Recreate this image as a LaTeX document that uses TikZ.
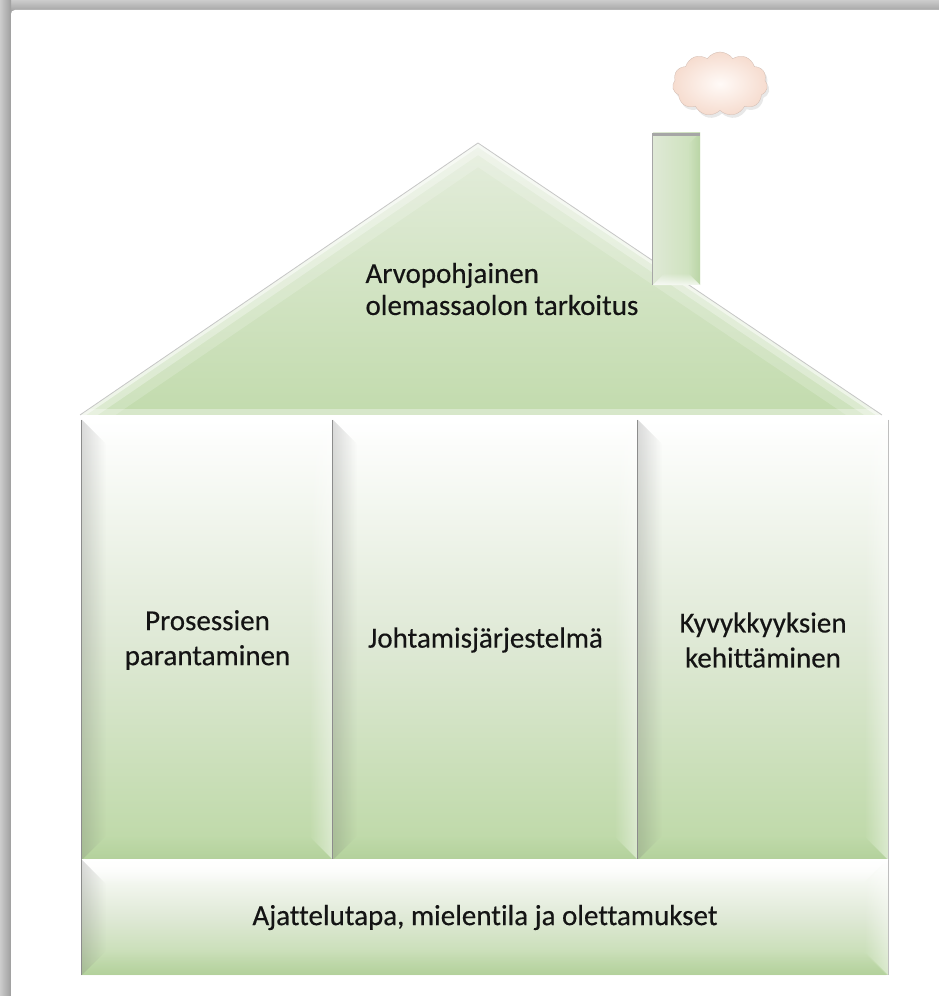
\documentclass[tikz,border=0pt]{standalone}
\usepackage{fontspec}
\setmainfont{Carlito}[Ligatures=CommonOff, FakeBold=0.35]
\usetikzlibrary{shapes.symbols,fadings,shadows}

\definecolor{leaf}{HTML}{BCD8A5}
\definecolor{leafmid}{HTML}{DFE9D6}
\definecolor{leafdark}{HTML}{9FC286}
\definecolor{rooftop}{HTML}{E4EDDC}
\definecolor{roofbase}{HTML}{C2DBAD}
\definecolor{inkdark}{HTML}{141414}
\definecolor{puff}{HTML}{FFFAF7}
\definecolor{puffedge}{HTML}{F6DCCF}

% soft bevel on a rectangular node: light top and right, shaded left, darker bottom
\newcommand\bevelon[2]{%
  \fill[white, fill opacity=0.95, path fading=south]
    (#1.north west) -- (#1.north east) -- ([xshift=-#2pt,yshift=-#2pt]#1.north east)
    -- ([xshift=#2pt,yshift=-#2pt]#1.north west) -- cycle;
  \fill[black!70, fill opacity=0.2, path fading=east]
    (#1.north west) -- ([xshift=#2pt,yshift=-#2pt]#1.north west)
    -- ([xshift=#2pt,yshift=#2pt]#1.south west) -- (#1.south west) -- cycle;
  \fill[white, fill opacity=0.45, path fading=west]
    (#1.north east) -- (#1.south east) -- ([xshift=-#2pt,yshift=#2pt]#1.south east)
    -- ([xshift=-#2pt,yshift=-#2pt]#1.north east) -- cycle;
  \fill[leafdark, fill opacity=0.3, path fading=north]
    (#1.south west) -- (#1.south east) -- ([xshift=-#2pt,yshift=#2pt]#1.south east)
    -- ([xshift=#2pt,yshift=#2pt]#1.south west) -- cycle;
  \draw[black!45, line width=1pt] (#1.north west) -- (#1.south west);
}

\begin{document}
\begin{tikzpicture}[x=1pt,y=1pt,
  labeltext/.style={font=\fontsize{29}{35}\selectfont, text=inkdark, align=center},
  pillarbox/.style={rectangle, draw=none, inner sep=0pt, minimum height=440pt,
    top color=white, bottom color=leaf, middle color=leafmid, labeltext},
  basebox/.style={rectangle, draw=none, inner sep=0pt, minimum height=115pt,
    top color=white, bottom color=leaf, middle color=leafmid, labeltext}]

% page and its shadowed frame
\useasboundingbox (0,0) rectangle (939,996);
\fill[black!30] (0,0) rectangle (939,996);
\shade[top color=black!20, bottom color=black!36] (0,985) rectangle (939,996);
\shade[left color=black!20, right color=black!38] (0,0) rectangle (11,996);
\fill[white] (11,0) -- (11,982) to[out=90,in=180] (15,986) -- (939,986) -- (939,0) -- cycle;

% roof
\coordinate (apex) at (478,853);
\coordinate (eaveL) at (80,581);
\coordinate (eaveR) at (882,581);
\shade[top color=rooftop, bottom color=roofbase] (eaveL) -- (apex) -- (eaveR) -- cycle;
\begin{scope}
  \clip (eaveL) -- (apex) -- (eaveR) -- cycle;
  \draw[white, line width=40pt, opacity=0.18] (eaveL) -- (apex) -- (eaveR);
  \draw[white, line width=20pt, opacity=0.3] (eaveL) -- (apex) -- (eaveR);
  \draw[white, line width=7pt, opacity=0.5] (eaveL) -- (apex) -- (eaveR);
  \fill[white, opacity=0.35] (60,581) rectangle (900,587);
\end{scope}
\draw[black!22, line width=0.8pt] (eaveL) -- (apex) -- (eaveR);
\node[labeltext, align=left, anchor=west, font=\fontsize{29}{32}\selectfont]
  (purpose) at (362,707) {Arvopohjainen\\olemassaolon tarkoitus};

% chimney
\node[rectangle, draw=none, minimum width=47pt, minimum height=152pt, inner sep=0pt,
  left color=leafmid, right color=leaf!80] (chimney) at (676.5,787) {};
\fill[leafdark, fill opacity=0.35, path fading=west]
  (chimney.north east) -- (chimney.south east) -- ([xshift=-12pt,yshift=12pt]chimney.south east)
  -- ([xshift=-12pt,yshift=-12pt]chimney.north east) -- cycle;
\fill[white, fill opacity=0.8, path fading=north]
  (chimney.south west) -- (chimney.south east) -- ([xshift=-12pt,yshift=12pt]chimney.south east)
  -- ([xshift=12pt,yshift=12pt]chimney.south west) -- cycle;
\fill[black!35] (chimney.north west) rectangle ([yshift=-3pt]chimney.north east);
\draw[black!35, line width=0.8pt] (chimney.north west) -- (chimney.south west);

% smoke puff
\node[cloud, cloud puffs=11, cloud puff arc=110, aspect=1.45,
  minimum width=95pt, minimum height=64pt, inner sep=0pt,
  inner color=puff, outer color=puffedge, draw=puffedge!85!black, line width=0.3pt,
  drop shadow={opacity=0.18, shadow xshift=2pt, shadow yshift=-3pt}] (smoke) at (720,912) {};

% pillars
\node[pillarbox, minimum width=251pt] (p1) at (207.5,356) {Prosessien\\parantaminen};
\node[pillarbox, minimum width=305pt] (p2) at (485.5,356) {Johtamisjärjestelmä};
\node[pillarbox, minimum width=250pt] (p3) at (763,356) {Kyvykkyyksien\\kehittäminen};
\bevelon{p1}{24}
\bevelon{p2}{24}
\bevelon{p3}{24}
\draw[black!25, line width=0.6pt] (p3.north east) -- (p3.south east);

% foundation
\node[basebox, minimum width=806pt] (base) at (485,78.5) {Ajattelutapa, mielentila ja olettamukset};
\bevelon{base}{24}
\draw[black!25, line width=0.6pt] (base.north east) -- (base.south east);
\end{tikzpicture}
\end{document}
